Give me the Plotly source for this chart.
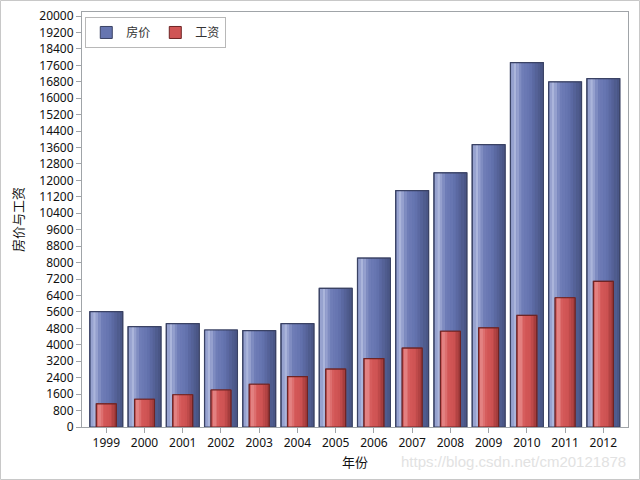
import plotly.graph_objects as go

years = ["1999", "2000", "2001", "2002", "2003", "2004", "2005", "2006",
         "2007", "2008", "2009", "2010", "2011", "2012"]
house_price = [5610, 4880, 5030, 4720, 4690, 5030, 6750, 8220,
               11500, 12370, 13740, 17730, 16790, 16950]
wage = [1130, 1350, 1570, 1800, 2080, 2450, 2820, 3330,
        3840, 4660, 4820, 5430, 6290, 7090]
y_ticks = list(range(0, 20001, 800))

FONT = "Noto Sans, Noto Sans CJK SC, sans-serif"

def lerp(c1, c2, t):
    return "rgb(%d,%d,%d)" % tuple(round(a + (b - a) * t) for a, b in zip(c1, c2))

def gradient(profile, n):
    cols = []
    for i in range(n):
        p = (i + 0.5) / n
        for j in range(len(profile) - 1):
            p0, c0 = profile[j]
            p1, c1 = profile[j + 1]
            if p0 <= p <= p1:
                cols.append(lerp(c0, c1, (p - p0) / (p1 - p0)))
                break
    return cols

fig = go.Figure()

def add_series(name, values, width, edge, profile, legend_color):
    fig.add_trace(go.Bar(x=years, y=values, name=name, width=width,
                         marker=dict(color=legend_color, line=dict(color=edge, width=1)),
                         showlegend=True, hoverinfo="skip"))
    n = 12
    cols = gradient(profile, n)
    inner = width * 0.96
    sw = inner / n
    for i, c in enumerate(cols):
        fig.add_trace(go.Bar(x=years, y=values, width=sw * 1.05,
                             offset=-inner / 2 + i * sw,
                             marker=dict(color=c, line=dict(width=0)),
                             showlegend=False, hoverinfo="skip"))
    fig.add_trace(go.Bar(x=years, y=values, width=width,
                         marker=dict(color="rgba(0,0,0,0)", line=dict(color=edge, width=1.2)),
                         showlegend=False, hoverinfo="skip"))

blue_profile = [(0.0, (140, 152, 200)), (0.12, (172, 182, 220)), (0.35, (112, 126, 184)),
                (0.6, (100, 115, 175)), (0.85, (80, 93, 145)), (1.0, (72, 84, 130))]
red_profile = [(0.0, (200, 80, 80)), (0.15, (232, 140, 140)), (0.4, (212, 88, 88)),
               (0.7, (205, 82, 82)), (0.9, (175, 65, 65)), (1.0, (160, 58, 58))]

add_series("房价", house_price, 0.86, "#3a4264", blue_profile, "#6675b0")
add_series("工资", wage, 0.52, "#6e2424", red_profile, "#d05555")

fig.update_layout(
    width=640, height=480,
    margin=dict(l=82, r=12, t=12, b=53, autoexpand=False),
    paper_bgcolor="white", plot_bgcolor="white",
    barmode="overlay",
    font=dict(family=FONT, size=12, color="#111"),
    showlegend=True,
    legend=dict(x=0.006, y=0.988, xanchor="left", yanchor="top", orientation="h",
                bordercolor="#b8b8b8", borderwidth=1, bgcolor="white",
                font=dict(size=12, color="#333"), itemwidth=30, tracegroupgap=0),
    xaxis=dict(type="category", range=[-0.635, 13.645], showgrid=False, automargin=False,
               showline=True, linecolor="#a0a4a8", linewidth=1, mirror=True,
               ticks="outside", ticklen=5, tickcolor="#a0a4a8",
               tickfont=dict(size=12)),
    yaxis=dict(range=[0, 20195], tickvals=y_ticks, tickformat="d", showgrid=False,
               zeroline=False, automargin=False,
               showline=True, linecolor="#a0a4a8", linewidth=1, mirror=True,
               ticks="outside", ticklen=5, tickcolor="#a0a4a8",
               tickfont=dict(size=12)),
)

W, H = 546, 415
fig.add_shape(type="rect", xref="paper", yref="paper",
              x0=(0.5 - 82) / W, x1=(639.5 - 82) / W,
              y0=(427 - 479.5) / H, y1=(427 - 0.5) / H,
              line=dict(color="#c8c8c8", width=1), layer="below")
fig.add_annotation(text="年份", xref="paper", yref="paper",
                   x=(355 - 82) / W, y=(427 - 462) / H, xanchor="center", yanchor="middle",
                   showarrow=False, font=dict(size=13, color="#111"))
fig.add_annotation(text="房价与工资", xref="paper", yref="paper",
                   x=(18 - 82) / W, y=(427 - 220) / H, xanchor="center", yanchor="middle",
                   textangle=-90, showarrow=False, font=dict(size=13, color="#111"))
fig.add_annotation(text="https://blog.csdn.net/cm20121878", xref="paper", yref="paper",
                   x=1.0, y=(427 - 461) / H, xanchor="right", yanchor="middle",
                   showarrow=False, font=dict(family="Liberation Sans, Arial", size=15, color="#e2e2e2"))

fig.write_html("out.html", config={"displayModeBar": False},
               post_script="document.body.style.margin='0';document.body.style.overflow='hidden';")
